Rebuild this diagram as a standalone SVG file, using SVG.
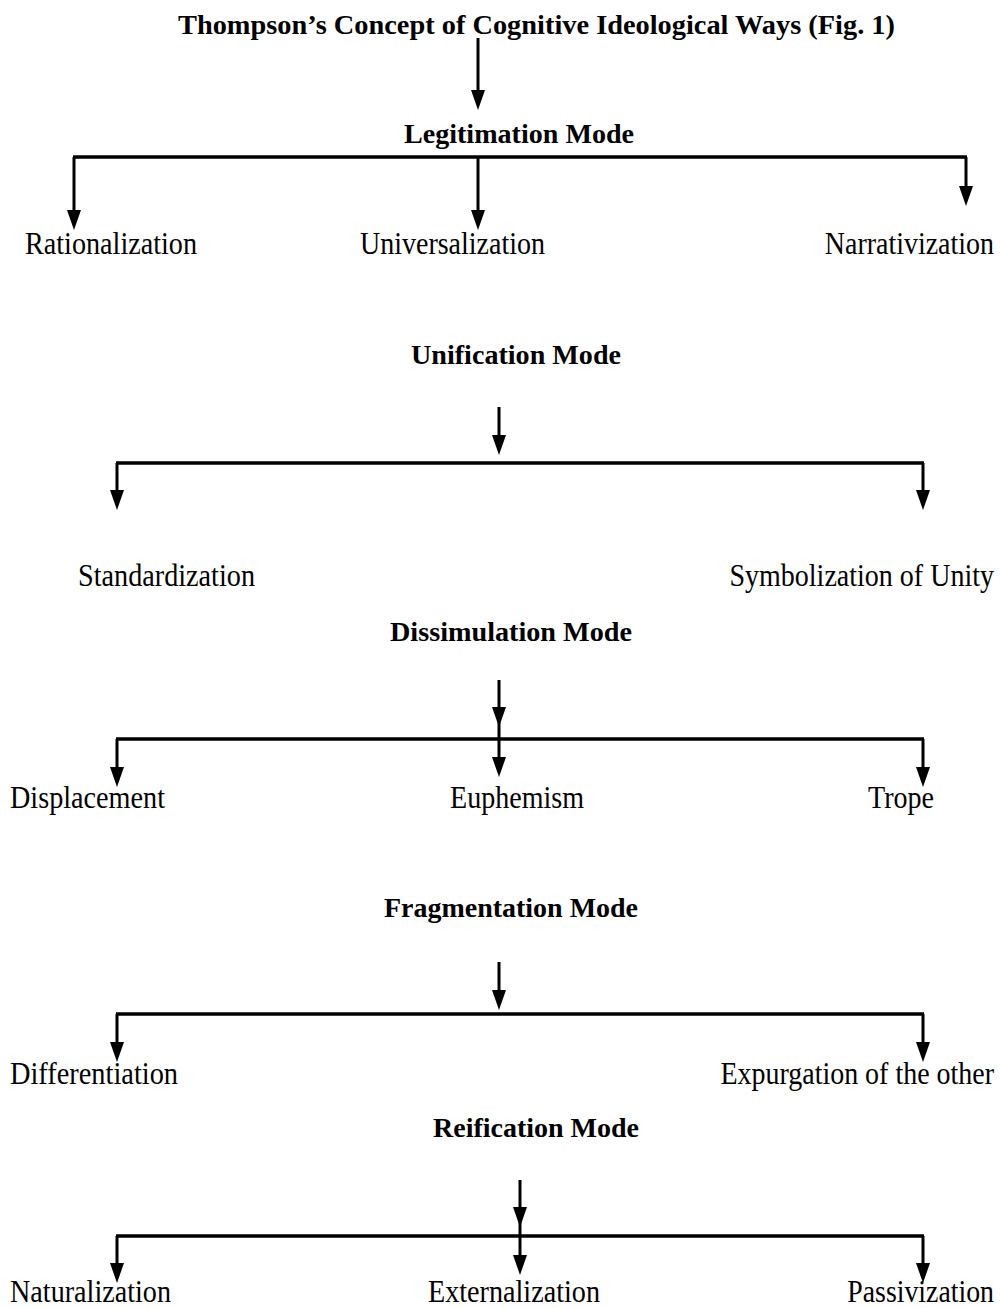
<svg xmlns="http://www.w3.org/2000/svg" width="1000" height="1308" viewBox="0 0 1000 1308">
<style>
text{font-family:'Liberation Serif','Tinos','DejaVu Serif',serif;font-size:31px;fill:#000}
.b{font-weight:bold;font-size:28px}
.r{text-anchor:end}
.a{stroke:#000;stroke-width:3;fill:none;marker-end:url(#ah)}
.bar{stroke:#000;stroke-width:3.5;fill:none}
</style>
<defs>
<marker id="ah" markerUnits="userSpaceOnUse" markerWidth="20" markerHeight="14" refX="14" refY="7" orient="auto" viewBox="0 0 20 14">
<path d="M0,0 L20,7 L0,14 Z" fill="#000"/>
</marker>
</defs>
<rect width="1000" height="1308" fill="#fff"/>

<g id="title"><text class="b" x="178" y="34" textLength="717" lengthAdjust="spacingAndGlyphs">Thompson’s Concept of Cognitive Ideological Ways (Fig. 1)</text></g>

<g id="legitimation"><text class="b" x="404" y="143" textLength="230" lengthAdjust="spacingAndGlyphs">Legitimation Mode</text></g>
<g id="rationalization"><text x="25" y="254" textLength="172" lengthAdjust="spacingAndGlyphs">Rationalization</text></g>
<g id="universalization"><text x="360" y="254" textLength="185" lengthAdjust="spacingAndGlyphs">Universalization</text></g>
<g id="narrativization" transform="translate(994,254) scale(0.9,1)"><text class="r" x="0" y="0" textLength="188" lengthAdjust="spacingAndGlyphs">Narrativization</text></g>

<g id="unification"><text class="b" x="411" y="364" textLength="210" lengthAdjust="spacingAndGlyphs">Unification Mode</text></g>
<g id="standardization"><text x="78" y="586" textLength="177" lengthAdjust="spacingAndGlyphs">Standardization</text></g>
<g id="symbolization" transform="translate(994,586) scale(0.9,1)"><text class="r" x="0" y="0" textLength="294" lengthAdjust="spacingAndGlyphs">Symbolization of Unity</text></g>

<g id="dissimulation"><text class="b" x="390" y="641" textLength="242" lengthAdjust="spacingAndGlyphs">Dissimulation Mode</text></g>
<g id="displacement"><text x="10" y="808" textLength="155" lengthAdjust="spacingAndGlyphs">Displacement</text></g>
<g id="euphemism"><text x="450" y="808" textLength="134" lengthAdjust="spacingAndGlyphs">Euphemism</text></g>
<g id="trope"><text x="868" y="808" textLength="66" lengthAdjust="spacingAndGlyphs">Trope</text></g>

<g id="fragmentation"><text class="b" x="384" y="917" textLength="254" lengthAdjust="spacingAndGlyphs">Fragmentation Mode</text></g>
<g id="differentiation"><text x="10" y="1084" textLength="168" lengthAdjust="spacingAndGlyphs">Differentiation</text></g>
<g id="expurgation" transform="translate(994,1084) scale(0.9,1)"><text class="r" x="0" y="0" textLength="304" lengthAdjust="spacingAndGlyphs">Expurgation of the other</text></g>

<g id="reification"><text class="b" x="433" y="1137" textLength="206" lengthAdjust="spacingAndGlyphs">Reification Mode</text></g>
<g id="naturalization"><text x="10" y="1302" textLength="161" lengthAdjust="spacingAndGlyphs">Naturalization</text></g>
<g id="externalization"><text x="428" y="1302" textLength="172" lengthAdjust="spacingAndGlyphs">Externalization</text></g>
<g id="passivization" transform="translate(994,1302) scale(0.9,1)"><text class="r" x="0" y="0" textLength="163" lengthAdjust="spacingAndGlyphs">Passivization</text></g>

<g id="connectors">
<line class="a" x1="478" y1="38" x2="478" y2="104"/>
<line class="bar" x1="73" y1="157" x2="967" y2="157" stroke-width="4"/>
<line class="a" x1="74" y1="157" x2="74" y2="224"/>
<line class="a" x1="478" y1="157" x2="478" y2="224"/>
<line class="a" x1="966" y1="157" x2="966" y2="200"/>

<line class="a" x1="499" y1="407" x2="499" y2="449"/>
<line class="bar" x1="116" y1="463" x2="924" y2="463"/>
<line class="a" x1="117" y1="463" x2="117" y2="504"/>
<line class="a" x1="923" y1="463" x2="923" y2="504"/>

<line class="a" x1="499" y1="680" x2="499" y2="721"/>
<line class="bar" x1="116" y1="739" x2="924" y2="739"/>
<line class="a" x1="117" y1="739" x2="117" y2="781"/>
<line class="a" x1="499" y1="721" x2="499" y2="771"/>
<line class="a" x1="923" y1="739" x2="923" y2="781"/>

<line class="a" x1="499" y1="962" x2="499" y2="1004"/>
<line class="bar" x1="116" y1="1014" x2="924" y2="1014"/>
<line class="a" x1="117" y1="1014" x2="117" y2="1056"/>
<line class="a" x1="923" y1="1014" x2="923" y2="1056"/>

<line class="a" x1="520" y1="1180" x2="520" y2="1221"/>
<line class="bar" x1="116" y1="1236" x2="924" y2="1236"/>
<line class="a" x1="117" y1="1236" x2="117" y2="1277"/>
<line class="a" x1="520" y1="1221" x2="520" y2="1269"/>
<line class="a" x1="923" y1="1236" x2="923" y2="1277"/>
</g>
</svg>
